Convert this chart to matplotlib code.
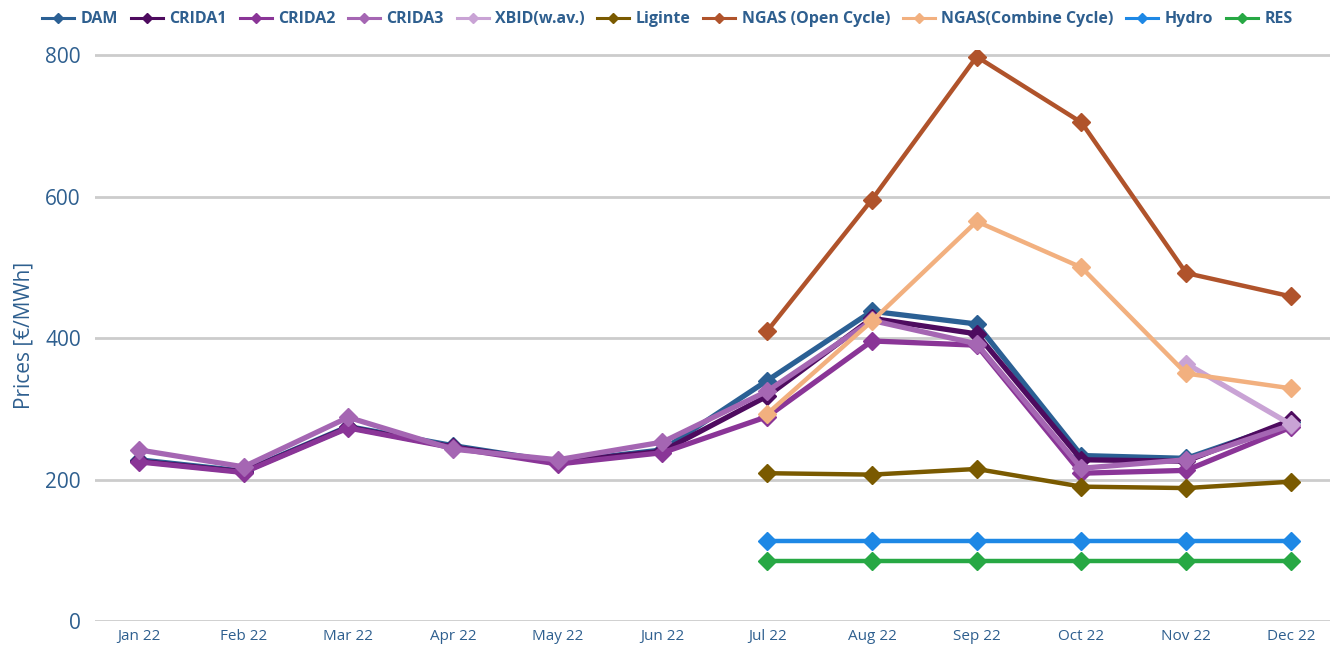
import numpy as np
import matplotlib.pyplot as plt

plt.rcParams['font.family'] = ['Open Sans', 'DejaVu Sans']

months = ['Jan 22', 'Feb 22', 'Mar 22', 'Apr 22', 'May 22', 'Jun 22',
          'Jul 22', 'Aug 22', 'Sep 22', 'Oct 22', 'Nov 22', 'Dec 22']
N = None

dam    = [228, 212, 275, 248, 225, 242, 340, 438, 420, 234, 230, 281]
crida1 = [226, 211, 274, 246, 225, 240, 318, 428, 406, 228, 226, 284]
crida2 = [225, 210, 273, 245, 222, 238, 289, 396, 390, 209, 213, 274]
crida3 = [242, 218, 288, 243, 228, 253, 325, 425, 392, 216, 228, 277]
xbid   = [N, N, N, N, N, N, N, N, N, N, 364, 278]
liginte = [N, N, N, N, N, N, 209, 207, 215, 190, 188, 197]
ngas_open = [N, N, N, N, N, N, 410, 596, 798, 705, 492, 459]
ngas_comb = [N, N, N, N, N, N, 293, 424, 565, 500, 350, 329]
hydro = [N, N, N, N, N, N, 113, 113, 113, 113, 113, 113]
res   = [N, N, N, N, N, N, 85, 85, 85, 85, 85, 85]

series = [
    ('DAM', dam, '#2b6094', 3.8),
    ('CRIDA1', crida1, '#4e0b5f', 3.8),
    ('CRIDA2', crida2, '#8a3597', 3.8),
    ('CRIDA3', crida3, '#a566b3', 3.8),
    ('XBID(w.av.)', xbid, '#c9a3d5', 3.8),
    ('Liginte', liginte, '#7a5a00', 3.2),
    ('NGAS (Open Cycle)', ngas_open, '#b0532b', 3.2),
    ('NGAS(Combine Cycle)', ngas_comb, '#f2b07f', 3.2),
    ('Hydro', hydro, '#1e88e5', 3.2),
    ('RES', res, '#27a844', 3.2),
]

text_col = '#2e5f8f'
x = np.arange(len(months))

fig = plt.figure(figsize=(13.35, 6.5), dpi=100)
ax = fig.add_axes([0.071, 0.0446, 0.925, 0.878])

handles = []
for name, vals, col, lw in series:
    v = np.array([np.nan if a is None else a for a in vals], dtype=float)
    ax.plot(x, v, color=col, lw=lw, marker='D', ms=9, zorder=3)
    h, = plt.plot([], [], color=col, lw=2.2, marker='D', ms=5)
    handles.append((h, name))

ax.set_xlim(-0.42, 11.37)
ax.set_ylim(0, 807)
ax.set_yticks([0, 200, 400, 600, 800])
ax.set_xticks(x)
ax.set_xticklabels(months)
ax.tick_params(axis='x', length=0, labelsize=11, labelcolor=text_col, pad=6)
ax.tick_params(axis='y', length=0, labelsize=15, labelcolor=text_col, pad=10)
ax.grid(axis='y', color='#cccccc', lw=2)
ax.set_axisbelow(True)
for s in ax.spines.values():
    s.set_visible(False)
ax.set_ylabel('Prices [€/MWh]', fontsize=15, color=text_col, labelpad=8)

fig.legend([h for h, _ in handles], [n for _, n in handles], loc='upper center',
           bbox_to_anchor=(0.5, 1.005), ncol=10, frameon=False,
           prop={'weight': 'bold', 'size': 11.5}, labelcolor=text_col,
           handlelength=2.0, handletextpad=0.4, columnspacing=0.8)

fig.savefig('out.png', dpi=100)
